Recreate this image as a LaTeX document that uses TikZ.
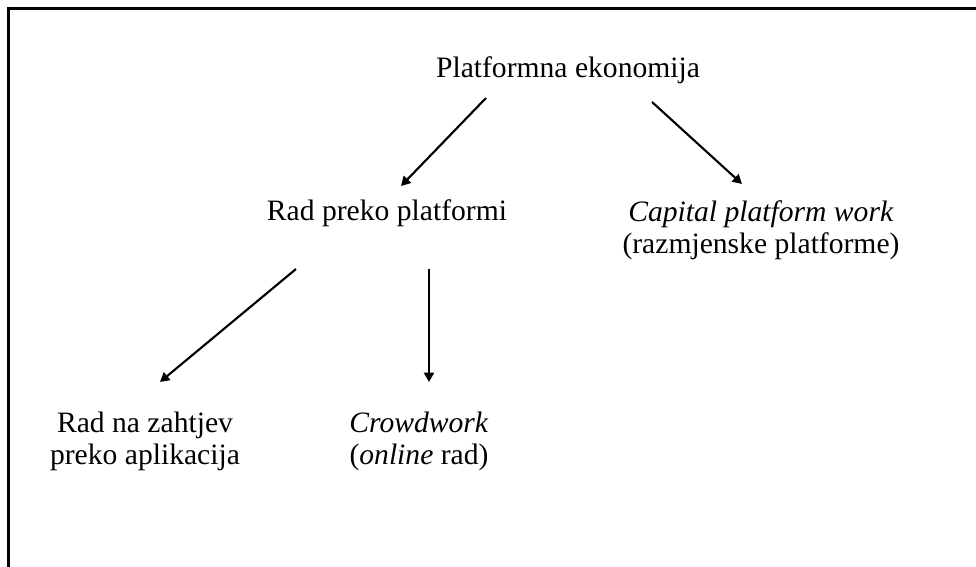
\documentclass[tikz,border=0pt]{standalone}
\usepackage{fontspec}
\setmainfont{Liberation Serif}
\usetikzlibrary{arrows.meta}
\begin{document}
\begin{tikzpicture}[x=0.75pt,y=-0.75pt,
  lbl/.style={inner sep=0pt,align=center,font=\fontsize{22.2}{24}\selectfont},
  conn/.style={line width=1.6pt,-{Triangle[length=7pt,width=7.5pt]}},
  frame/.style={line width=1.6pt}]
\useasboundingbox (0,0) rectangle (976,567);
% frame (only top and left edges visible)
\coordinate (fbl) at (8.5,567);
\coordinate (ftl) at (8.5,8.5);
\coordinate (ftr) at (976,8.5);
\draw[frame] (fbl) -- (ftl) -- (ftr);
% nodes (base = baseline of the last line)
\node[lbl,anchor=base] (pe) at (568,78) {Platformna ekonomija};
\node[lbl,anchor=base] (rp) at (387,220) {Rad preko platformi};
\node[lbl,anchor=base] (cp) at (761,253) {\textit{Capital platform work}\\(razmjenske platforme)};
\node[lbl,anchor=base] (rz) at (145,464) {Rad na zahtjev\\preko aplikacija};
\node[lbl,anchor=base] (cw) at (419,464) {\textit{Crowdwork}\\(\textit{online} rad)};
% connector end points
\coordinate (a1s) at (486,98);  \coordinate (a1e) at (401,186);
\coordinate (a2s) at (652,102); \coordinate (a2e) at (742,184);
\coordinate (a3s) at (296,269); \coordinate (a3e) at (160,382);
\coordinate (a4s) at (429,269); \coordinate (a4e) at (429,382);
\draw[conn] (a1s) -- (a1e);
\draw[conn] (a2s) -- (a2e);
\draw[conn] (a3s) -- (a3e);
\draw[conn] (a4s) -- (a4e);
\end{tikzpicture}
\end{document}
